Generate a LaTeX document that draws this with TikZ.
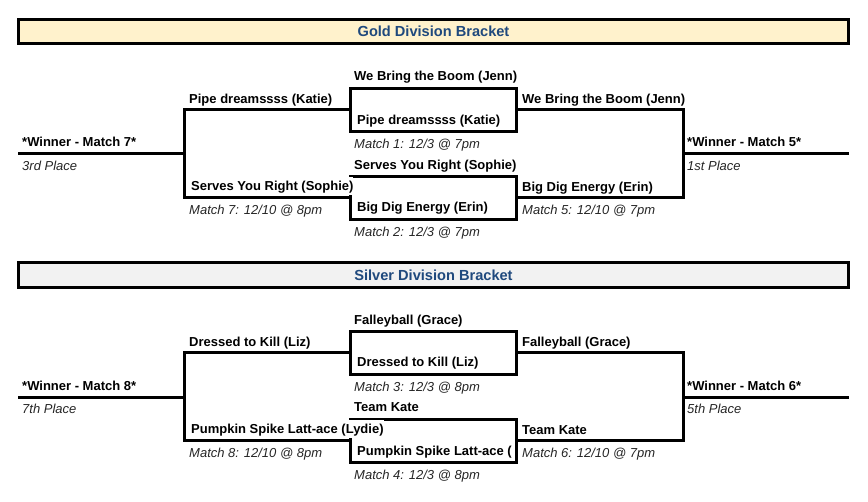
\documentclass[tikz,border=0pt]{standalone}
\usepackage{fontspec}
\setmainfont{Liberation Sans}
\definecolor{hdrblue}{RGB}{31,73,125}
\definecolor{goldfill}{RGB}{255,242,204}
\definecolor{silverfill}{RGB}{242,242,242}
\begin{document}
\begin{tikzpicture}[x=1pt,y=-1pt,
  line join=miter,
  bline/.style={line width=3pt},
  header/.style={draw,line width=3pt,minimum width=830pt,minimum height=24.5pt,inner sep=0pt,
     font=\fontsize{14.6}{16}\selectfont\bfseries,text=hdrblue},
  matchbox/.style={draw,line width=3pt,minimum width=166pt,minimum height=43pt,inner sep=0pt},
  team/.style={anchor=west,inner sep=0pt,text height=9.3pt,text depth=0pt,font=\fontsize{13}{14}\selectfont\bfseries},
  overflow/.style={fill=white,minimum height=18pt},
  info/.style={anchor=west,inner sep=0pt,text height=9.3pt,text depth=0pt,font=\fontsize{13}{14}\selectfont\itshape,text=black!85}]
\useasboundingbox (0,0) rectangle (868,501);
\fill[white] (0,0) rectangle (868,501);

% ---------- Gold ----------
\node[header,fill=goldfill] (gh) at (433.5,31.3) {Gold Division Bracket};

\node[matchbox] (m1) at (433,109.5) {};
\node[matchbox] (m2) at (433,197.5) {};
\coordinate (g7a) at (184,109.5);
\coordinate (g7b) at (184,197.5);
\coordinate (g7m) at (184,153);
\coordinate (g7e) at (18,153);
\coordinate (g5a) at (683,109.5);
\coordinate (g5b) at (683,197.5);
\coordinate (g5m) at (683,153);
\coordinate (g5e) at (849,153);
\draw[bline] (m1.west) -- (g7a) -- (g7b) -- (m2.west);
\draw[bline] (g7m) -- (g7e);
\draw[bline] (m1.east) -- (g5a) -- (g5b) -- (m2.east);
\draw[bline] (g5m) -- (g5e);

\node[team] (t7w) at (22,142) {*Winner - Match 7*};
\node[info] (t7p) at (22,166) {3rd Place};
\node[team] (t7a) at (189,98.5) {Pipe dreamssss (Katie)};
\node[team,overflow] (t7b) at (191,186) {Serves You Right (Sophie)};
\node[info] (t7i) at (189,209.5) {Match 7: 12/10 @ 8pm};

\node[team] (t1a) at (354,76) {We Bring the Boom (Jenn)};
\node[team] (t1b) at (357,120) {Pipe dreamssss (Katie)};
\node[info] (t1i) at (354,143.5) {Match 1: 12/3 @ 7pm};
\node[team] (t2a) at (354,165) {Serves You Right (Sophie)};
\node[team] (t2b) at (357,207) {Big Dig Energy (Erin)};
\node[info] (t2i) at (354,232) {Match 2: 12/3 @ 7pm};

\node[team] (t5a) at (522,98.5) {We Bring the Boom (Jenn)};
\node[team] (t5b) at (522,187) {Big Dig Energy (Erin)};
\node[info] (t5i) at (522,210) {Match 5: 12/10 @ 7pm};
\node[team] (t5w) at (687,142) {*Winner - Match 5*};
\node[info] (t5p) at (687,166) {1st Place};

% ---------- Silver ----------
\node[header,fill=silverfill] (sh) at (433.5,274.8) {Silver Division Bracket};

\node[matchbox] (m3) at (433,352.5) {};
\node[matchbox] (m4) at (433,440.5) {};
\coordinate (s8a) at (184,352.5);
\coordinate (s8b) at (184,440.5);
\coordinate (s8m) at (184,397);
\coordinate (s8e) at (18,397);
\coordinate (s6a) at (683,352.5);
\coordinate (s6b) at (683,440.5);
\coordinate (s6m) at (683,397);
\coordinate (s6e) at (849,397);
\draw[bline] (m3.west) -- (s8a) -- (s8b) -- (m4.west);
\draw[bline] (s8m) -- (s8e);
\draw[bline] (m3.east) -- (s6a) -- (s6b) -- (m4.east);
\draw[bline] (s6m) -- (s6e);

\node[team] (t8w) at (22,385.5) {*Winner - Match 8*};
\node[info] (t8p) at (22,409) {7th Place};
\node[team] (t8a) at (189,341.5) {Dressed to Kill (Liz)};
\node[team,overflow] (t8b) at (191,429) {Pumpkin Spike Latt-ace (Lydie)};
\node[info] (t8i) at (189,452.5) {Match 8: 12/10 @ 8pm};

\node[team] (t3a) at (354,319.5) {Falleyball (Grace)};
\node[team] (t3b) at (357,362) {Dressed to Kill (Liz)};
\node[info] (t3i) at (354,387) {Match 3: 12/3 @ 8pm};
\node[team] (t4a) at (354,407) {Team Kate};
\begin{scope}
\clip (351.5,420) rectangle (514.5,461.5);
\node[team] (t4b) at (357,451) {Pumpkin Spike Latt-ace (};
\end{scope}
\node[info] (t4i) at (354,474.5) {Match 4: 12/3 @ 8pm};

\node[team] (t6a) at (522,342) {Falleyball (Grace)};
\node[team] (t6b) at (522,429.5) {Team Kate};
\node[info] (t6i) at (522,452.5) {Match 6: 12/10 @ 7pm};
\node[team] (t6w) at (687,385.5) {*Winner - Match 6*};
\node[info] (t6p) at (687,409) {5th Place};
\end{tikzpicture}
\end{document}
